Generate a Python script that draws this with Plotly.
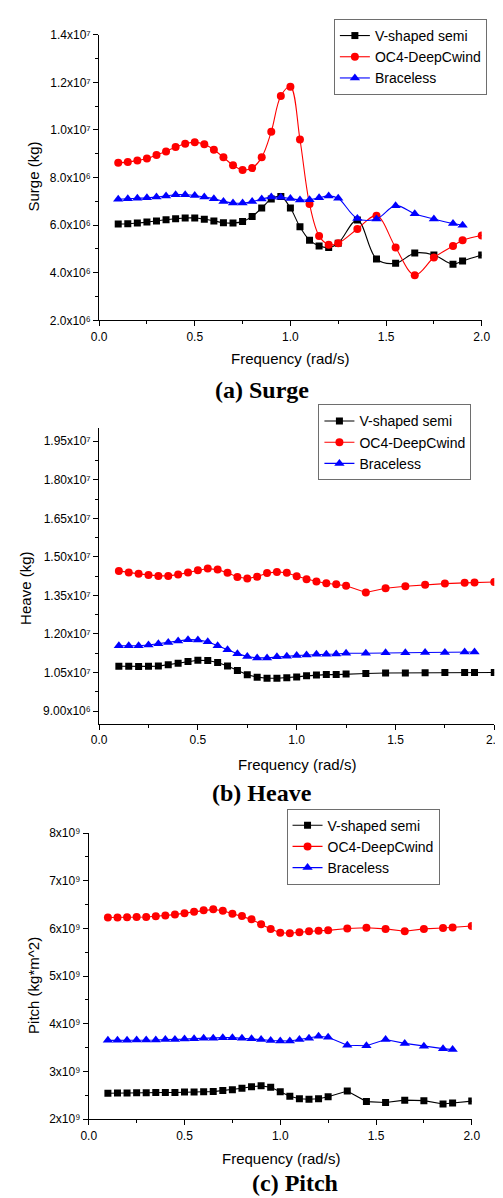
import plotly.graph_objects as go

W, H = 503, 1198

# ---------------- data ----------------
freq_main = [0.1, 0.15, 0.2, 0.25, 0.3, 0.35, 0.4, 0.45, 0.5, 0.55, 0.6, 0.65, 0.7, 0.75,
             0.8, 0.85, 0.9, 0.95, 1.0, 1.05, 1.1, 1.15, 1.2, 1.25,
             1.35, 1.45, 1.55, 1.65, 1.75, 1.85, 1.9, 2.0]
freq_brace = freq_main[:-1]

series_names = ["V-shaped semi", "OC4-DeepCwind", "Braceless"]

surge_v = [6.05e6, 6.06e6, 6.09e6, 6.13e6, 6.18e6, 6.23e6, 6.27e6, 6.30e6, 6.30e6, 6.25e6,
           6.18e6, 6.10e6, 6.09e6, 6.15e6, 6.37e6, 6.72e6, 7.10e6, 7.21e6, 6.72e6, 5.93e6,
           5.37e6, 5.13e6, 5.06e6, 5.24e6, 6.22e6, 4.58e6, 4.40e6, 4.83e6, 4.75e6, 4.36e6,
           4.50e6, 4.75e6]
surge_oc4 = [8.62e6, 8.65e6, 8.72e6, 8.80e6, 8.95e6, 9.10e6, 9.28e6, 9.42e6, 9.48e6, 9.40e6,
             9.17e6, 8.85e6, 8.52e6, 8.32e6, 8.40e6, 8.85e6, 9.93e6, 11.43e6, 11.82e6, 9.60e6,
             6.89e6, 5.55e6, 5.18e6, 5.24e6, 5.84e6, 6.40e6, 5.06e6, 3.90e6, 4.64e6, 5.13e6,
             5.37e6, 5.57e6]
surge_brace = [7.09e6, 7.11e6, 7.13e6, 7.15e6, 7.18e6, 7.23e6, 7.28e6, 7.28e6, 7.25e6, 7.18e6,
               7.11e6, 7.00e6, 6.93e6, 6.93e6, 6.99e6, 7.10e6, 7.18e6, 7.17e6, 7.12e6, 7.06e6,
               7.07e6, 7.15e6, 7.23e6, 7.13e6, 6.28e6, 6.26e6, 6.82e6, 6.48e6, 6.26e6, 6.07e6,
               6.00e6]

heave_v = [1.0745e7, 1.074e7, 1.073e7, 1.074e7, 1.075e7, 1.080e7, 1.086e7, 1.0925e7, 1.0975e7,
           1.097e7, 1.089e7, 1.075e7, 1.058e7, 1.041e7, 1.032e7, 1.028e7, 1.028e7, 1.030e7,
           1.033e7, 1.037e7, 1.040e7, 1.042e7, 1.042e7, 1.044e7, 1.046e7, 1.048e7, 1.048e7,
           1.049e7, 1.050e7, 1.050e7, 1.050e7, 1.050e7]
heave_oc4 = [1.4455e7, 1.439e7, 1.434e7, 1.430e7, 1.426e7, 1.426e7, 1.431e7, 1.439e7, 1.448e7,
             1.4545e7, 1.4505e7, 1.438e7, 1.422e7, 1.416e7, 1.423e7, 1.437e7, 1.4415e7, 1.438e7,
             1.425e7, 1.413e7, 1.404e7, 1.3977e7, 1.394e7, 1.3875e7, 1.3616e7, 1.378e7, 1.386e7,
             1.392e7, 1.396e7, 1.399e7, 1.400e7, 1.402e7]
heave_brace = [1.1544e7, 1.154e7, 1.154e7, 1.157e7, 1.162e7, 1.167e7, 1.1725e7, 1.178e7, 1.177e7,
               1.170e7, 1.154e7, 1.139e7, 1.1235e7, 1.112e7, 1.107e7, 1.107e7, 1.111e7, 1.113e7,
               1.116e7, 1.118e7, 1.121e7, 1.121e7, 1.122e7, 1.125e7, 1.125e7, 1.127e7, 1.127e7,
               1.128e7, 1.128e7, 1.130e7, 1.130e7]

pitch_v = [2.545e9, 2.55e9, 2.55e9, 2.555e9, 2.555e9, 2.56e9, 2.56e9, 2.56e9, 2.57e9, 2.57e9,
           2.575e9, 2.58e9, 2.60e9, 2.62e9, 2.65e9, 2.68e9, 2.70e9, 2.67e9, 2.575e9, 2.48e9,
           2.43e9, 2.42e9, 2.43e9, 2.47e9, 2.59e9, 2.37e9, 2.35e9, 2.40e9, 2.39e9, 2.32e9,
           2.34e9, 2.38e9]
pitch_oc4 = [6.228e9, 6.228e9, 6.235e9, 6.24e9, 6.24e9, 6.255e9, 6.27e9, 6.29e9, 6.32e9, 6.35e9,
             6.38e9, 6.40e9, 6.37e9, 6.31e9, 6.26e9, 6.19e9, 6.09e9, 5.99e9, 5.91e9, 5.90e9,
             5.92e9, 5.94e9, 5.95e9, 5.96e9, 6.00e9, 6.015e9, 5.99e9, 5.94e9, 5.99e9, 6.01e9,
             6.02e9, 6.05e9]
pitch_brace = [3.654e9, 3.654e9, 3.654e9, 3.66e9, 3.66e9, 3.66e9, 3.67e9, 3.67e9, 3.68e9, 3.69e9,
               3.70e9, 3.70e9, 3.71e9, 3.71e9, 3.70e9, 3.69e9, 3.67e9, 3.65e9, 3.64e9, 3.64e9,
               3.67e9, 3.70e9, 3.74e9, 3.72e9, 3.55e9, 3.54e9, 3.67e9, 3.59e9, 3.53e9, 3.48e9,
               3.46e9]

x_tickvals = [0.0, 0.5, 1.0, 1.5, 2.0]
x_ticktext = ["0.0", "0.5", "1.0", "1.5", "2.0"]

surge_tickvals = [2e6, 4e6, 6e6, 8e6, 1.0e7, 1.2e7, 1.4e7]
surge_ticktext = ["2.0x10⁶", "4.0x10⁶", "6.0x10⁶", "8.0x10⁶",
                  "1.0x10⁷", "1.2x10⁷", "1.4x10⁷"]
heave_tickvals = [9.0e6, 1.05e7, 1.20e7, 1.35e7, 1.50e7, 1.65e7, 1.80e7, 1.95e7]
heave_ticktext = ["9.00x10⁶", "1.05x10⁷", "1.20x10⁷", "1.35x10⁷",
                  "1.50x10⁷", "1.65x10⁷", "1.80x10⁷", "1.95x10⁷"]
pitch_tickvals = [2e9, 3e9, 4e9, 5e9, 6e9, 7e9, 8e9]
pitch_ticktext = ["2x10⁹", "3x10⁹", "4x10⁹", "5x10⁹",
                  "6x10⁹", "7x10⁹", "8x10⁹"]

# ---------------- styling ----------------
colors = ["#000000", "#FF0000", "#0000FF"]
symbols = ["square", "circle", "triangle-up"]
msizes = [7, 8, 9]
FONT = "Liberation Sans, Arial, sans-serif"
SERIF = "Liberation Serif, Times New Roman, serif"


def px(x):
    return x / W


def py(y):
    return 1 - y / H


fig = go.Figure()

panels = [
    dict(data=[(freq_main, surge_v), (freq_main, surge_oc4), (freq_brace, surge_brace)],
         shape="spline", legend="legend"),
    dict(data=[(freq_main, heave_v), (freq_main, heave_oc4), (freq_brace, heave_brace)],
         shape="linear", legend="legend2"),
    dict(data=[(freq_main, pitch_v), (freq_main, pitch_oc4), (freq_brace, pitch_brace)],
         shape="linear", legend="legend3"),
]

for i, p in enumerate(panels):
    ax = "" if i == 0 else str(i + 1)
    for j, (xs, ys) in enumerate(p["data"]):
        fig.add_trace(go.Scatter(
            x=xs, y=ys, name=series_names[j], mode="lines+markers",
            line=dict(color=colors[j], width=1.1, shape=p["shape"], smoothing=1.0),
            marker=dict(symbol=symbols[j], size=msizes[j], color=colors[j]),
            xaxis="x" + ax, yaxis="y" + ax, legend=p["legend"], showlegend=True,
        ))

axis_common = dict(showline=True, linecolor="black", linewidth=1, ticks="outside",
                   ticklen=5, tickcolor="black", showgrid=False, zeroline=False,
                   tickfont=dict(family=FONT, size=12, color="black"))

# pixel boxes: (left, right, top, bottom)
boxes = [(86, 482, 20, 309), (86, 495, 418.3, 717.3), (75.3, 471.7, 827.7, 1117.3)]
yr = [(2e6, 1.4e7), (8.5e6, 2.0e7), (2e9, 8e9)]
ytv = [surge_tickvals, heave_tickvals, pitch_tickvals]
ytt = [surge_ticktext, heave_ticktext, pitch_ticktext]
yminor = [1e6, 7.5e5, 5e8]

layout = dict(width=W, height=H, margin=dict(l=0, r=0, t=0, b=0),
              paper_bgcolor="white", plot_bgcolor="white", showlegend=True)

for i, (l, r, t, b) in enumerate(boxes):
    ax = "" if i == 0 else str(i + 1)
    layout["xaxis" + ax] = dict(axis_common, domain=[px(l), px(r)], range=[0, 2],
                                tickvals=x_tickvals, ticktext=x_ticktext,
                                anchor="y" + ax,
                                minor=dict(dtick=0.25, tick0=0, ticks="outside", ticklen=3,
                                           tickcolor="black"))
    layout["yaxis" + ax] = dict(axis_common, domain=[py(b), py(t)], range=list(yr[i]),
                                tickvals=ytv[i], ticktext=ytt[i], anchor="x" + ax,
                                minor=dict(dtick=yminor[i], tick0=yr[i][0] if i != 1 else 9e6,
                                           ticks="outside", ticklen=3, tickcolor="black"))

leg_common = dict(bgcolor="white", bordercolor="#6e6e6e", borderwidth=1,
                  font=dict(family=FONT, size=14, color="black"),
                  xanchor="left", yanchor="top", tracegroupgap=0, itemwidth=30)
layout["legend"] = dict(leg_common, x=px(329), y=py(4))
layout["legend2"] = dict(leg_common, x=px(313), y=py(394))
layout["legend3"] = dict(leg_common, x=px(280), y=py(803))

ann = []
def add_text(text, x, y, size, family, angle=0, bold=False):
    ann.append(dict(text=("<b>%s</b>" % text) if bold else text, x=px(x), y=py(y),
                    xref="paper", yref="paper", showarrow=False, textangle=angle,
                    xanchor="center", yanchor="middle",
                    font=dict(family=family, size=size, color="black")))

add_text("Frequency (rad/s)", 284, 348, 15, FONT)
add_text("Frequency (rad/s)", 291, 758, 15, FONT)
add_text("Frequency (rad/s)", 274, 1157, 15, FONT)
add_text("Surge (kg)", 18, 163, 15, FONT, angle=-90)
add_text("Heave (kg)", 10, 580, 15, FONT, angle=-90)
add_text("Pitch (kg*m^2)", 18, 982, 15, FONT, angle=-90)
add_text("(a) Surge", 255, 379, 24, SERIF, bold=True)
add_text("(b) Heave", 255, 787, 24, SERIF, bold=True)
add_text("(c) Pitch", 289, 1182, 24, SERIF, bold=True)
layout["annotations"] = ann

fig.update_layout(**layout)
fig.write_html("out.html")
